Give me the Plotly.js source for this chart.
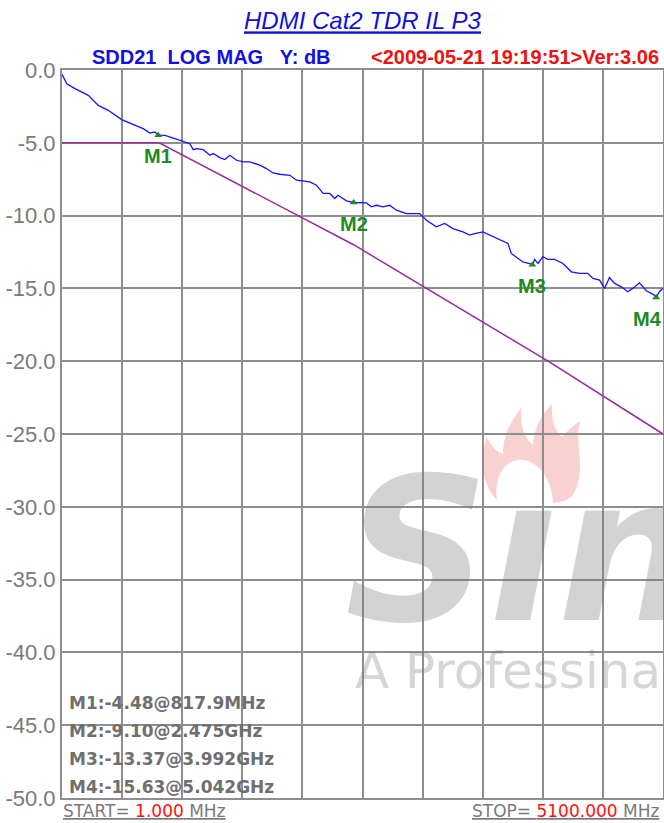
<!DOCTYPE html>
<html>
<head>
<meta charset="utf-8">
<script src="https://cdn.plot.ly/plotly-3.0.1.min.js"></script>
<style>html,body{margin:0;padding:0;background:#fff;}#chart{width:664px;height:823px;}</style>
</head>
<body>
<div id="chart"></div>
<script>
// ---- data ----
const blueFreq = [1, 41, 111, 224, 309, 393, 507, 620, 690, 747, 789, 818, 874, 959, 1029, 1086, 1114, 1143, 1199, 1256, 1284, 1340, 1383, 1425, 1482, 1538, 1595, 1679, 1736, 1792, 1849, 1934, 1991, 2075, 2103, 2160, 2216, 2273, 2315, 2343, 2414, 2475, 2584, 2626, 2669, 2725, 2781, 2838, 2923, 3036, 3093, 3177, 3248, 3318, 3403, 3460, 3502, 3572, 3629, 3714, 3784, 3813, 3856, 3911, 3968, 3992, 4011, 4039, 4081, 4123, 4180, 4251, 4322, 4392, 4462, 4505, 4562, 4604, 4646, 4689, 4746, 4801, 4844, 4901, 4958, 5028, 5042, 5070, 5100];
const blueDb = [-0.3, -0.94, -1.28, -1.74, -2.43, -2.77, -3.41, -3.80, -4.03, -4.33, -4.26, -4.48, -4.49, -4.71, -4.90, -5.06, -5.47, -5.40, -5.47, -5.86, -5.74, -6.02, -6.15, -5.86, -6.20, -6.31, -6.31, -6.54, -6.77, -7.07, -7.16, -7.23, -7.57, -7.64, -7.69, -7.91, -8.48, -8.48, -8.83, -8.60, -8.99, -9.10, -9.13, -9.40, -9.29, -9.40, -9.29, -9.63, -9.86, -9.86, -10.32, -10.77, -10.54, -10.89, -11.12, -11.34, -11.23, -11.12, -11.34, -11.69, -11.91, -12.60, -12.83, -13.18, -13.29, -13.37, -13.01, -13.29, -12.83, -13.01, -13.01, -13.29, -13.86, -13.97, -13.97, -14.32, -14.43, -15.00, -14.25, -14.66, -14.89, -15.23, -15.00, -14.62, -15.16, -15.46, -15.63, -15.23, -15.00];

const limitFreq = [1, 825, 2475, 4125, 5100];
const limitDb = [-5, -5, -12, -20, -25];

const markerNames = ['M1', 'M2', 'M3', 'M4'];
const markerFreq = [817.9, 2475, 3992, 5042];
const markerDb = [-4.48, -9.10, -13.37, -15.63];
const readoutFreq = ['817.9MHz', '2.475GHz', '3.992GHz', '5.042GHz'];

const yTickVals = [0, -5, -10, -15, -20, -25, -30, -35, -40, -45, -50];
const yTickText = ['0.0', '-5.0', '-10.0', '-15.0', '-20.0', '-25.0', '-30.0', '-35.0', '-40.0', '-45.0', '-50.0'];

const startFreqText = '1.000';
const stopFreqText = '5100.000';

// ---- layout geometry (pixels) ----
const W = 664, H = 823, PL = 62, PR = 663, PT = 70, PB = 798;
const xp = px => (px - PL) / (PR - PL);
const yp = py => (PB - py) / (PB - PT);

const gridCol = '#8e8e8e';
const green = '#1f8a1f';

function pathFromPx(cmds) {
  return cmds.map(c => {
    const op = c[0];
    const nums = c.slice(1);
    const out = [];
    for (let i = 0; i < nums.length; i += 2) out.push(xp(nums[i]).toFixed(4) + ',' + yp(nums[i + 1]).toFixed(4));
    return op + ' ' + out.join(' ');
  }).join(' ') + ' Z';
}
const flame = pathFromPx([
  ['M', 497, 500],
  ['C', 484, 488, 478, 462, 487, 437],
  ['C', 491, 446, 497, 452, 503, 454],
  ['C', 503, 436, 511, 420, 522, 407],
  ['C', 519, 424, 524, 438, 533, 445],
  ['C', 534, 428, 542, 414, 552, 404],
  ['C', 551, 420, 555, 431, 562, 437],
  ['C', 567, 431, 573, 426, 580, 421],
  ['C', 574, 446, 588, 474, 572, 496],
  ['C', 568, 500, 560, 503, 553, 503],
  ['C', 552, 478, 536, 458, 518, 460],
  ['C', 502, 462, 494, 480, 497, 500]
]);

const traces = [
  {x: limitFreq, y: limitDb, mode: 'lines', line: {color: '#9a2a9a', width: 1.5}, hoverinfo: 'skip'},
  {x: blueFreq, y: blueDb, mode: 'lines', line: {color: '#1414ff', width: 1.3}, hoverinfo: 'skip'},
  {x: markerFreq, y: markerDb, mode: 'markers', marker: {symbol: 'triangle-up', size: 7, color: green}, hoverinfo: 'skip'}
];

const annotations = [];
// watermark
annotations.push({xref: 'paper', yref: 'paper', x: xp(343), y: yp(550), xanchor: 'left', yanchor: 'middle', showarrow: false,
  text: 'S\u0131n', font: {family: 'DejaVu Sans, sans-serif', size: 200, weight: 'bold', style: 'italic', color: 'rgba(120,120,120,0.33)'}});
annotations.push({xref: 'paper', yref: 'paper', x: xp(353), y: yp(671), xanchor: 'left', yanchor: 'middle', showarrow: false,
  text: 'A Professina', font: {family: 'DejaVu Sans, sans-serif', size: 50, color: 'rgba(120,120,120,0.30)'}});
// header row
annotations.push({xref: 'paper', yref: 'paper', x: xp(90), y: yp(57), xanchor: 'left', yanchor: 'middle', showarrow: false,
  text: '<b>SDD21\u00a0\u00a0LOG MAG\u00a0\u00a0\u00a0Y: dB</b>', font: {family: 'Liberation Sans, Arial, sans-serif', size: 20, color: '#1010e0'}});
annotations.push({xref: 'paper', yref: 'paper', x: xp(661), y: yp(57), xanchor: 'right', yanchor: 'middle', showarrow: false,
  text: '<b>&lt;2009-05-21 19:19:51&gt;Ver:3.06</b>', font: {family: 'Liberation Sans, Arial, sans-serif', size: 20, color: '#f01010'}});
// marker labels
markerNames.forEach((n, i) => {
  annotations.push({xref: 'x', yref: 'y', x: markerFreq[i], y: markerDb[i], yshift: -21, xshift: i === markerNames.length - 1 ? -9 : 0,
    showarrow: false, text: '<b>' + n + '</b>', font: {family: 'Liberation Sans, Arial, sans-serif', size: 20, color: green}});
});
// readouts
const rowY = [703, 731, 759, 787];
markerNames.forEach((n, i) => {
  annotations.push({xref: 'paper', yref: 'paper', x: xp(67), y: yp(rowY[i]), xanchor: 'left', yanchor: 'middle', showarrow: false,
    text: '<b>' + n + ':' + markerDb[i].toFixed(2) + '@' + readoutFreq[i] + '</b>',
    font: {family: 'DejaVu Sans, sans-serif', size: 17, color: '#6f6f6f'}});
});
// start / stop
annotations.push({xref: 'paper', yref: 'paper', x: xp(61), y: yp(811), xanchor: 'left', yanchor: 'middle', showarrow: false,
  text: 'START= <span style="color:#ff1010">' + startFreqText + '</span> MHz',
  font: {family: 'DejaVu Sans, sans-serif', size: 17, color: '#7a7a7a', lineposition: 'under'}});
annotations.push({xref: 'paper', yref: 'paper', x: xp(661), y: yp(811), xanchor: 'right', yanchor: 'middle', showarrow: false,
  text: 'STOP= <span style="color:#ff1010">' + stopFreqText + '</span> MHz',
  font: {family: 'DejaVu Sans, sans-serif', size: 17, color: '#7a7a7a', lineposition: 'under'}});

const layout = {
  width: W, height: H,
  margin: {l: PL, r: W - PR, t: PT, b: H - PB, pad: 0},
  paper_bgcolor: '#ffffff', plot_bgcolor: 'rgba(0,0,0,0)',
  showlegend: false,
  title: {text: 'HDMI Cat2 TDR IL P3', xref: 'paper', x: 0.5, xanchor: 'center', yref: 'container', y: 1 - 21 / H, yanchor: 'middle',
    font: {family: 'Liberation Sans, Arial, sans-serif', size: 24, color: '#1010d8', style: 'italic', lineposition: 'under'}},
  xaxis: {range: [1, 5100], tickmode: 'linear', tick0: 1, dtick: 509.9, showticklabels: false, ticks: '',
    showgrid: true, gridcolor: gridCol, gridwidth: 2, zeroline: false, showline: true, linecolor: gridCol, linewidth: 2, mirror: true, fixedrange: true},
  yaxis: {range: [-50, 0], tickmode: 'array', tickvals: yTickVals, ticktext: yTickText, ticks: '',
    tickfont: {family: 'Liberation Sans, Arial, sans-serif', size: 22, color: '#7a7a7a'},
    showgrid: true, gridcolor: gridCol, gridwidth: 2, zeroline: false, showline: true, linecolor: gridCol, linewidth: 2, mirror: true, fixedrange: true},
  shapes: [{type: 'path', xref: 'paper', yref: 'paper', layer: 'below', path: flame, fillcolor: 'rgba(235,120,120,0.34)', line: {width: 0}}],
  annotations: annotations
};

Plotly.newPlot('chart', traces, layout, {staticPlot: true, displayModeBar: false});
</script>
</body>
</html>
